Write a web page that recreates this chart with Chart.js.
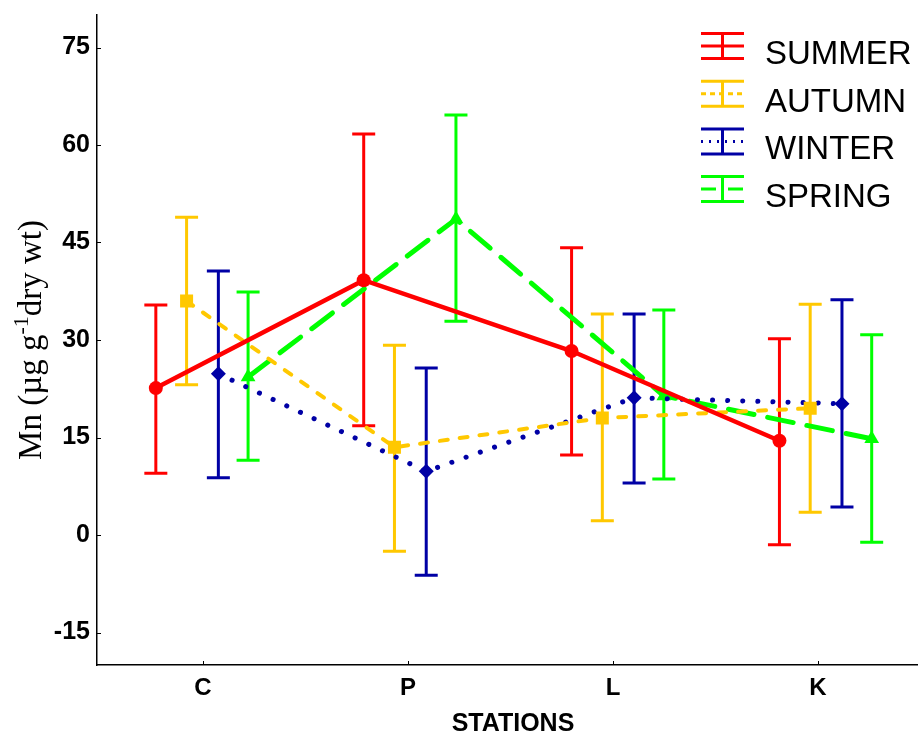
<!DOCTYPE html>
<html>
<head>
<meta charset="utf-8">
<script src="https://cdn.jsdelivr.net/npm/chart.js@4.4.1/dist/chart.umd.min.js"></script>
<style>
    html, body { margin: 0; padding: 0; background: #fff; overflow: hidden; }
    canvas { display: block; }
</style>
</head>
<body>
<canvas id="chart" width="918" height="735"></canvas>
<script>
// 数据 - stations & seasons
const stations = ['C', 'P', 'L', 'K'];
const seasons = ['SUMMER', 'AUTUMN', 'WINTER', 'SPRING'];
const yTickValues = [-15, 0, 15, 30, 45, 60, 75];

// mean Mn per station
const summerMean = [22.6, 39.2, 28.3, 14.5];
const autumnMean = [36.0, 13.5, 18.0, 19.5];
const winterMean = [24.8, 9.8, 21.1, 20.2];
const springMean = [24.3, 48.6, 21.4, 14.8];

// error bar ends (low / high)
const summerLow = [9.5, 16.8, 12.3, -1.5];
const summerHigh = [35.4, 61.7, 44.2, 30.2];
const autumnLow = [23.1, -2.5, 2.2, 3.5];
const autumnHigh = [48.9, 29.2, 34.0, 35.5];
const winterLow = [8.8, -6.2, 8.0, 4.3];
const winterHigh = [40.6, 25.7, 34.0, 36.2];
const springLow = [11.5, 32.9, 8.6, -1.1];
const springHigh = [37.4, 64.6, 34.6, 30.8];

// 样式
const colors = {
    summer: '#ff0000',
    autumn: '#ffc800',
    winter: '#0000a5',
    spring: '#00ff00'
};

// small side-by-side offsets so the error bars don't overlap
const seasonOffset = [-0.23, -0.08, 0.075, 0.22];
const offsetDrift = 0.014;

function toPoints(means, s) {
    return means.map((v, i) => ({ x: i + 1 + seasonOffset[s] + offsetDrift * i, y: v }));
}

const series = [
    { label: seasons[0], mean: summerMean, low: summerLow, high: summerHigh, color: colors.summer,
      dash: [], width: 4.5, cap: 'round', point: 'circle', radius: 7, legendDash: [] },
    { label: seasons[1], mean: autumnMean, low: autumnLow, high: autumnHigh, color: colors.autumn,
      dash: [8, 12], width: 4, cap: 'round', point: 'rect', radius: 9.2, legendDash: [5, 4] },
    { label: seasons[2], mean: winterMean, low: winterLow, high: winterHigh, color: colors.winter,
      dash: [0.1, 15], width: 5, cap: 'round', point: 'rectRot', radius: 7.5, legendDash: [2, 6] },
    { label: seasons[3], mean: springMean, low: springLow, high: springHigh, color: colors.spring,
      dash: [26, 14], width: 5, cap: 'round', point: 'triangle', radius: 8.5, legendDash: [15, 12] }
];

// 误差线
const errorBarPlugin = {
    id: 'errorBars',
    beforeDatasetsDraw(chart) {
        const ctx = chart.ctx;
        const yScale = chart.scales.y;
        ctx.save();
        series.forEach((s, si) => {
            const meta = chart.getDatasetMeta(si);
            meta.data.forEach((pt, i) => {
                const yLo = yScale.getPixelForValue(s.low[i]);
                const yHi = yScale.getPixelForValue(s.high[i]);
                ctx.strokeStyle = s.color;
                ctx.lineWidth = 3;
                ctx.lineCap = 'butt';
                ctx.setLineDash([]);
                ctx.beginPath();
                ctx.moveTo(pt.x, yLo);
                ctx.lineTo(pt.x, yHi);
                ctx.moveTo(pt.x - 11.5, yLo);
                ctx.lineTo(pt.x + 11.5, yLo);
                ctx.moveTo(pt.x - 11.5, yHi);
                ctx.lineTo(pt.x + 11.5, yHi);
                ctx.stroke();
            });
        });
        ctx.restore();
    }
};

// 标题、刻度和图例
const decorPlugin = {
    id: 'decor',
    afterDraw(chart) {
        const ctx = chart.ctx;
        const area = chart.chartArea;
        ctx.save();

        // inside tick marks
        ctx.strokeStyle = '#000';
        ctx.lineWidth = 1;
        yTickValues.forEach(v => {
            const y = Math.round(chart.scales.y.getPixelForValue(v)) + 0.5;
            ctx.beginPath();
            ctx.moveTo(area.left, y);
            ctx.lineTo(area.left + 4, y);
            ctx.stroke();
        });
        stations.forEach((st, i) => {
            const x = Math.round(chart.scales.x.getPixelForValue(i + 1)) + 0.5;
            ctx.beginPath();
            ctx.moveTo(x, area.bottom);
            ctx.lineTo(x, area.bottom - 4);
            ctx.stroke();
        });

        // x title
        ctx.fillStyle = '#000';
        ctx.font = 'bold 25px "Liberation Sans", Arial, sans-serif';
        ctx.textAlign = 'center';
        ctx.textBaseline = 'middle';
        ctx.fillText('STATIONS', 513, 724);

        // y title with superscript
        const mainFont = '33px "Liberation Serif", "Times New Roman", serif';
        const supFont = '22px "Liberation Serif", "Times New Roman", serif';
        const part1 = 'Mn (\u00b5g g';
        const sup = '-1';
        const part2 = 'dry wt)';
        ctx.font = mainFont;
        const w1 = ctx.measureText(part1).width;
        const w3 = ctx.measureText(part2).width;
        ctx.font = supFont;
        const w2 = ctx.measureText(sup).width;
        const total = w1 + w2 + w3;
        ctx.translate(41, 340);
        ctx.rotate(-Math.PI / 2);
        ctx.textAlign = 'left';
        ctx.textBaseline = 'alphabetic';
        let x = -total / 2;
        ctx.font = mainFont;
        ctx.fillText(part1, x, 0);
        x += w1;
        ctx.font = supFont;
        ctx.fillText(sup, x, -13);
        x += w2;
        ctx.font = mainFont;
        ctx.fillText(part2, x, 0);
        ctx.setTransform(1, 0, 0, 1, 0, 0);

        // legend
        const iconLeft = 701, iconRight = 744, iconMid = 722.5;
        series.forEach((s, i) => {
            const cy = 46 + i * 47.7;
            ctx.strokeStyle = s.color;
            ctx.lineWidth = 3;
            ctx.lineCap = 'butt';
            ctx.setLineDash([]);
            ctx.beginPath();
            ctx.moveTo(iconLeft, cy - 12.5);
            ctx.lineTo(iconRight, cy - 12.5);
            ctx.moveTo(iconLeft, cy + 12.5);
            ctx.lineTo(iconRight, cy + 12.5);
            ctx.moveTo(iconMid, cy - 12.5);
            ctx.lineTo(iconMid, cy + 12.5);
            ctx.stroke();
            ctx.setLineDash(s.legendDash);
            ctx.beginPath();
            ctx.moveTo(iconLeft, cy);
            ctx.lineTo(iconRight, cy);
            ctx.stroke();
            ctx.setLineDash([]);

            ctx.fillStyle = '#000';
            ctx.font = '33px "Liberation Sans", Arial, sans-serif';
            ctx.textAlign = 'left';
            ctx.textBaseline = 'middle';
            ctx.fillText(s.label, 765, cy + 9);
        });

        ctx.restore();
    }
};

const ctx = document.getElementById('chart');
new Chart(ctx, {
    type: 'scatter',
    data: {
        datasets: series.map((s, si) => ({
            label: s.label,
            data: toPoints(s.mean, si),
            showLine: true,
            borderColor: s.color,
            backgroundColor: s.color,
            borderWidth: s.width,
            borderDash: s.dash,
            borderCapStyle: s.cap,
            tension: 0,
            pointStyle: s.point,
            pointRadius: s.radius,
            pointBorderWidth: 0,
            pointHoverRadius: s.radius
        }))
    },
    options: {
        responsive: false,
        animation: false,
        devicePixelRatio: 1,
        layout: {
            autoPadding: false,
            padding: { top: 15, right: 1, left: 0, bottom: 0 }
        },
        plugins: {
            legend: { display: false },
            tooltip: { enabled: false }
        },
        scales: {
            x: {
                type: 'linear',
                min: 0.483,
                max: 4.483,
                afterBuildTicks: scale => {
                    scale.ticks = stations.map((st, i) => ({ value: i + 1 }));
                },
                afterFit: scale => {
                    scale.height = 70;
                    scale.paddingLeft = 0;
                    scale.paddingRight = 0;
                },
                grid: { drawOnChartArea: false, drawTicks: false },
                border: { color: '#000', width: 1.5 },
                ticks: {
                    callback: v => stations[v - 1],
                    color: '#000',
                    padding: 9,
                    maxRotation: 0,
                    font: { family: '"Liberation Sans", Arial, sans-serif', size: 24, weight: 'bold' }
                }
            },
            y: {
                min: -20,
                max: 80,
                afterBuildTicks: scale => {
                    scale.ticks = yTickValues.map(v => ({ value: v }));
                },
                afterFit: scale => {
                    scale.width = 97;
                    scale.paddingTop = 0;
                    scale.paddingBottom = 0;
                },
                grid: { drawOnChartArea: false, drawTicks: false },
                border: { color: '#000', width: 1.5 },
                ticks: {
                    color: '#000',
                    padding: 7,
                    font: { family: '"Liberation Sans", Arial, sans-serif', size: 25, weight: 'bold' }
                }
            }
        }
    },
    plugins: [errorBarPlugin, decorPlugin]
});
</script>
</body>
</html>
